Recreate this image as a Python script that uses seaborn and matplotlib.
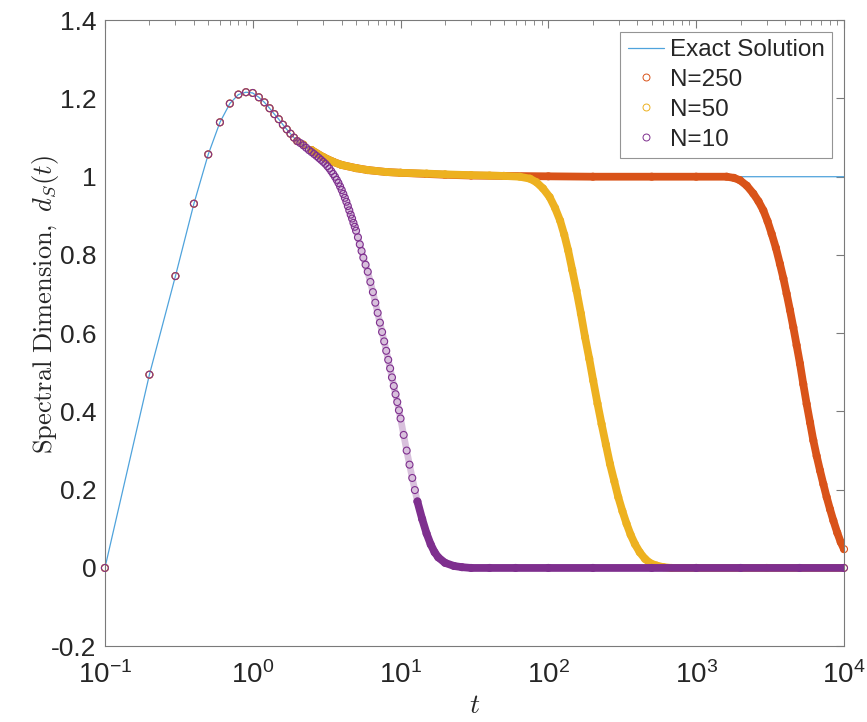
import numpy as np
import pandas as pd
import matplotlib
matplotlib.use("Agg")
import matplotlib.pyplot as plt
from matplotlib.lines import Line2D
import seaborn as sns

# ---------------- data ----------------
t_exact = [0.1, 0.2, 0.3, 0.4, 0.5, 0.6, 0.7, 0.8, 0.9, 1.0, 1.1, 1.2, 1.3, 1.4,
           1.5, 1.6, 1.7, 1.8, 1.9, 2.0, 2.5, 3.0, 3.5, 4.0, 5.0, 6.0, 8.0, 10,
           16, 20, 47, 100, 1000, 10000]
d_exact = [0.0, 0.494, 0.746, 0.931, 1.057, 1.139, 1.187, 1.210, 1.216, 1.214,
           1.203, 1.190, 1.175, 1.160, 1.147, 1.133, 1.121, 1.110, 1.100, 1.091,
           1.066, 1.049, 1.037, 1.030, 1.022, 1.017, 1.012, 1.010, 1.008, 1.006,
           1.003, 1.001, 1.0, 1.0]

# shared early markers (t = 0.1 ... 2.0)
t_early = [0.1, 0.2, 0.3, 0.4, 0.5, 0.6, 0.7, 0.8, 0.9, 1.0, 1.1, 1.2, 1.3, 1.4,
           1.5, 1.6, 1.7, 1.8, 1.9, 2.0]
d_early = [0.0, 0.494, 0.746, 0.931, 1.057, 1.139, 1.187, 1.210, 1.216, 1.214,
           1.203, 1.190, 1.175, 1.160, 1.147, 1.133, 1.121, 1.110, 1.100, 1.091]

t_n10 = t_early + [2.1, 2.2, 2.3, 2.4, 2.5, 2.6, 2.7, 2.8, 2.9, 3.0, 3.1, 3.2,
                   3.3, 3.4, 3.5, 3.6, 3.7, 3.8, 3.9, 4.0, 4.1, 4.2, 4.3, 4.4,
                   4.5, 4.6, 4.7, 4.8, 4.9, 5.0, 5.15, 5.3, 5.45, 5.6, 5.8, 6.0,
                   6.25, 6.5, 6.75, 7.0, 7.25, 7.5, 7.75, 8.0, 8.25, 8.5, 8.75,
                   9.0, 9.25, 9.5, 9.75, 10, 10.5, 11, 11.5, 12, 12.5, 13, 14, 15,
                   16, 17, 18, 20, 23, 26, 30, 40, 60, 100, 200, 500, 1000, 2000,
                   5000, 10000]
d_n10 = d_early + [1.086, 1.080, 1.074, 1.068, 1.063, 1.058, 1.053, 1.048, 1.043,
                   1.038, 1.033, 1.027, 1.021, 1.014, 1.007, 1.000, 0.992, 0.984,
                   0.975, 0.966, 0.956, 0.946, 0.936, 0.925, 0.914, 0.903, 0.893,
                   0.882, 0.872, 0.862, 0.845, 0.827, 0.810, 0.793, 0.775, 0.757,
                   0.731, 0.705, 0.678, 0.652, 0.627, 0.603, 0.579, 0.555, 0.532,
                   0.510, 0.487, 0.465, 0.444, 0.424, 0.403, 0.382, 0.340, 0.300,
                   0.264, 0.230, 0.199, 0.170, 0.125, 0.088, 0.060, 0.040, 0.027,
                   0.013, 0.005, 0.002, 0.0, 0.0, 0.0, 0.0, 0.0, 0.0, 0.0, 0.0,
                   0.0, 0.0]

t_n50 = t_early + [2.2, 2.5, 3.0, 3.5, 4, 5, 6, 8, 10, 15, 20, 30, 40, 50, 64,
                   75, 83, 92, 102, 111, 120, 128, 136, 145, 155, 166, 177, 189,
                   201, 215, 229, 245, 261, 279, 297, 317, 338, 360, 385, 415,
                   451, 490, 540, 600, 680, 1000, 3000, 10000]
d_n50 = d_early + [1.082, 1.068, 1.050, 1.038, 1.030, 1.022, 1.017, 1.012, 1.010,
                   1.008, 1.006, 1.004, 1.003, 1.002, 1.000, 0.995, 0.986, 0.970,
                   0.948, 0.920, 0.888, 0.852, 0.812, 0.762, 0.709, 0.650, 0.590,
                   0.535, 0.479, 0.420, 0.368, 0.315, 0.266, 0.222, 0.181, 0.145,
                   0.113, 0.085, 0.061, 0.040, 0.023, 0.012, 0.006, 0.002, 0.0,
                   0.0, 0.0, 0.0]

t_n250 = t_early + [2.2, 2.5, 3, 3.5, 4, 5, 6, 8, 10, 15, 20, 30, 50, 100, 200,
                    500, 1000, 1607, 1800, 1977, 2200, 2433, 2640, 2845, 3040,
                    3240, 3460, 3686, 3890, 4090, 4310, 4540, 4780, 5036, 5300,
                    5588, 5890, 6199, 6530, 6880, 7250, 7630, 8040, 8470, 9000,
                    9500, 10000]
d_n250 = d_early + [1.082, 1.068, 1.050, 1.038, 1.030, 1.022, 1.017, 1.012,
                    1.010, 1.007, 1.005, 1.003, 1.002, 1.001, 1.000, 1.000, 1.000,
                    1.000, 0.997, 0.991, 0.977, 0.957, 0.937, 0.914, 0.886, 0.854,
                    0.818, 0.777, 0.740, 0.701, 0.659, 0.615, 0.569, 0.522, 0.470,
                    0.419, 0.372, 0.326, 0.286, 0.249, 0.214, 0.181, 0.150, 0.121,
                    0.090, 0.066, 0.048]

series_labels = ["N=250", "N=50", "N=10"]
y_ticks = [-0.2, 0, 0.2, 0.4, 0.6, 0.8, 1.0, 1.2, 1.4]
y_ticklabels = ["-0.2", "0", "0.2", "0.4", "0.6", "0.8", "1", "1.2", "1.4"]
x_ticks = [0.1, 1, 10, 100, 1000, 10000]

# ---------------- styles ----------------
c_exact = "#4fa3dc"
colors = {"N=250": "#D95319", "N=50": "#EDB120", "N=10": "#7E2F8E"}
band_start = {"N=250": 2.4, "N=50": 2.4, "N=10": 13.0}

sns.set_theme(style="white")
plt.rcParams["font.family"] = ["Liberation Sans", "DejaVu Sans"]
plt.rcParams["mathtext.fontset"] = "cm"

fig = plt.figure(figsize=(8.67, 7.22), dpi=100)
ax = fig.add_axes([0.121, 0.105, 0.8525, 0.867])

df_exact = pd.DataFrame({"t": t_exact, "d": d_exact})
sns.lineplot(data=df_exact, x="t", y="d", ax=ax, color=c_exact, linewidth=0.9,
             estimator=None, sort=False, zorder=1)

data = {"N=250": (t_n250, d_n250), "N=50": (t_n50, d_n50), "N=10": (t_n10, d_n10)}
z = 2
for lab in series_labels:
    tt, dd = data[lab]
    df = pd.DataFrame({"t": tt, "d": dd})
    col = colors[lab]
    light = df[(df.t >= 2.0) & (df.t <= band_start[lab])]
    dense = df[df.t >= band_start[lab]]
    if len(light) > 1:
        sns.lineplot(data=light, x="t", y="d", ax=ax, color=col, linewidth=4.8,
                     alpha=0.3, estimator=None, sort=False, zorder=z,
                     solid_capstyle="round")
    sns.lineplot(data=dense, x="t", y="d", ax=ax, color=col, linewidth=5.6,
                 estimator=None, sort=False, zorder=z, solid_capstyle="round")
    n_before = len(ax.collections)
    sns.scatterplot(data=df, x="t", y="d", ax=ax, color=col, s=25, marker="o",
                    linewidth=0.8, zorder=z + 0.5, legend=False)
    coll = ax.collections[n_before]
    coll.set_facecolor("none")
    coll.set_edgecolor(col)
    coll.set_clip_on(False)
    z += 1

ax.set_xscale("log")
ax.set_xlim(0.1, 10000)
ax.set_ylim(-0.2, 1.4)
ax.set_xticks(x_ticks)
ax.set_yticks(y_ticks)
ax.set_yticklabels(y_ticklabels)

for sp in ax.spines.values():
    sp.set_visible(True)
    sp.set_color("#7a7a7a")
    sp.set_linewidth(0.8)
ax.tick_params(which="both", direction="in", top=True, right=True,
               colors="#7a7a7a", labelcolor="#262626")
ax.tick_params(axis="x", which="major", labelsize=20, pad=11)
ax.tick_params(axis="y", which="major", labelsize=19, pad=6)
ax.tick_params(which="major", length=6, width=0.8)
ax.tick_params(which="minor", length=3.5, width=0.6)

ax.set_xlabel(r"$t$", fontsize=20, labelpad=3, color="#262626")
ax.set_ylabel(r"$\mathrm{Spectral\ Dimension,}\ d_S(t)$", fontsize=19,
              color="#262626")
ax.yaxis.set_label_coords(-0.059, 0.545)

handles = [Line2D([0], [0], color=c_exact, lw=0.9, label="Exact Solution")]
for lab in series_labels:
    handles.append(Line2D([0], [0], color=colors[lab], lw=0, marker="o",
                          markersize=5, markerfacecolor="none",
                          markeredgewidth=0.7, label=lab))
leg = ax.legend(handles=handles, loc="upper right", fontsize=17.5, frameon=True,
                fancybox=False, edgecolor="#7a7a7a", borderaxespad=0.48,
                handlelength=1.5, handletextpad=0.25, labelspacing=0.32,
                borderpad=0.3)
leg.get_frame().set_linewidth(0.8)

fig.savefig("out.png", dpi=100, facecolor="white")
